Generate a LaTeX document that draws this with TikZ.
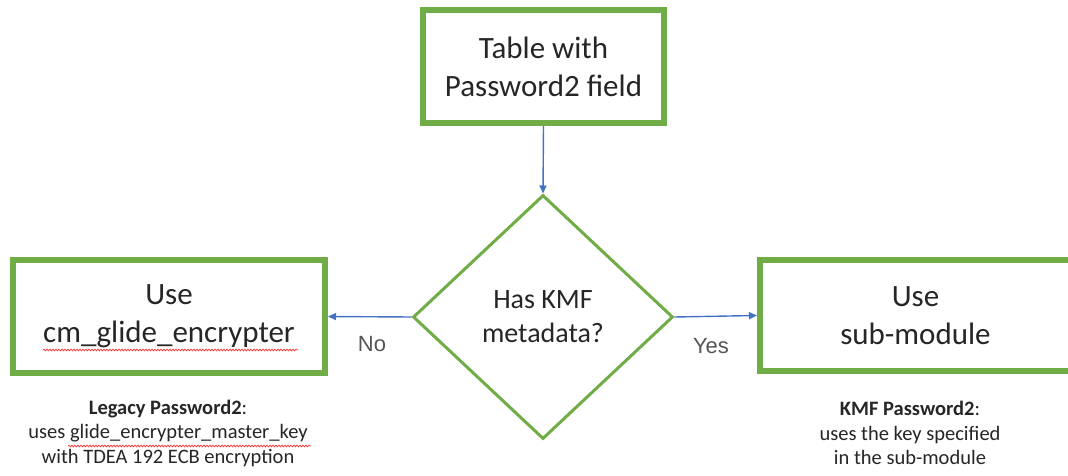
\documentclass[tikz,border=0pt]{standalone}
\usepackage{fontspec}
\setmainfont{Carlito}
\newfontfamily\lblfont{Liberation Sans}
\usetikzlibrary{shapes.geometric,arrows.meta,decorations.pathmorphing}
\definecolor{offgreen}{HTML}{70AD47}
\definecolor{offblue}{HTML}{4472C4}
\definecolor{lblgray}{HTML}{555555}
\tikzset{
  gbox/.style={draw=offgreen, line width=6pt, fill=white, align=center, inner sep=0pt,
    font=\fontsize{31}{38}\selectfont, text=black!85},
  dia/.style={draw=offgreen, line width=3pt, diamond, aspect=1.066, inner sep=0pt,
    minimum width=260pt, minimum height=244pt, align=center,
    font=\fontsize{28}{34}\selectfont, text=black!85},
  conn/.style={draw=offblue, line width=1.4pt, -{Triangle[length=8pt,width=7pt]}},
  lbl/.style={font=\lblfont\fontsize{22}{26}\selectfont, text=lblgray},
  note/.style={align=center, font=\fontsize{20.5}{24.5}\selectfont, text=black!85},
  squig/.style={draw=red!80, line width=0.7pt, decorate,
    decoration={snake, amplitude=0.9pt, segment length=3pt}}
}
\begin{document}
\begin{tikzpicture}[x=1pt,y=-1pt]
\useasboundingbox (0,0) rectangle (1068,476);
\clip (0,0) rectangle (1068,476);
\fill[white] (0,0) rectangle (1068,476);
\node[gbox, minimum width=241pt, minimum height=113pt] (top) at (543.5,66.5) {Table with\\Password2 field};
\node[dia] (dec) at (543,317) {Has KMF\\metadata?};
\node[gbox, minimum width=312pt, minimum height=113pt] (left) at (169,316.5) {Use\\cm\_glide\_encrypter};
\node[gbox, minimum width=311pt, minimum height=111pt] (right) at (915.5,315.5) {Use\\sub-module};
\draw[conn] (top.south) -- (dec.north);
\draw[conn] (dec.west) -- (left.east);
\draw[conn] (dec.east) -- (right.west);
\node[lbl] (no) at (372,344) {No};
\node[lbl] (yes) at (711,346) {Yes};
\node[note] (lnote) at (168,433) {\textbf{Legacy Password2}:\\uses glide\_encrypter\_master\_key\\with TDEA 192 ECB encryption};
\node[note] (rnote) at (910,433) {\textbf{KMF Password2}:\\uses the key specified\\in the sub-module};
\coordinate (s1a) at (43,350);
\coordinate (s1b) at (298,350);
\draw[squig] (s1a) -- (s1b);
\coordinate (s2a) at (68,446);
\coordinate (s2b) at (311,446);
\draw[squig] (s2a) -- (s2b);
\end{tikzpicture}
\end{document}
